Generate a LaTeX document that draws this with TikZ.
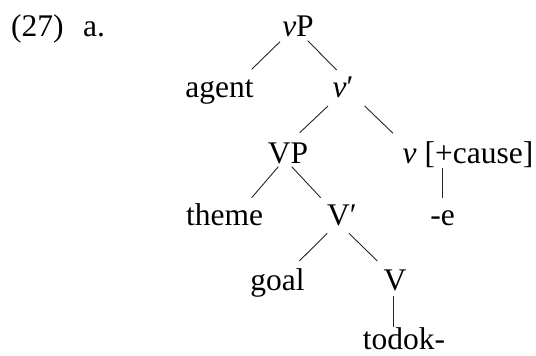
\documentclass[tikz,border=0pt]{standalone}
\usepackage{fontspec}
\setmainfont{Liberation Serif}
\begin{document}
\begin{tikzpicture}[x=1pt,y=-1pt,
  lab/.style={anchor=base,inner sep=0pt,font=\fontsize{31.5}{36}\selectfont},
  branch/.style={line width=0.9pt,black!85}]
\useasboundingbox (0,0) rectangle (536,356);
% example number
\node[lab,anchor=base west] (num) at (11,36) {(27)};
\node[lab,anchor=base west] (lett) at (83,36) {a.};
% tree nodes
\node[lab] (vP) at (298,36) {\textit{v}P};
\node[lab] (agent) at (219.5,97) {agent};
\node[lab] (vbar) at (343,97) {\textit{v}′};
\node[lab] (VP) at (288,163) {VP};
\node[lab] (vc) at (468,163) {\textit{v} [+cause]};
\node[lab] (theme) at (224.7,225) {theme};
\node[lab] (Vbar) at (342,225) {V′};
\node[lab] (e) at (442.5,225) {-e};
\node[lab] (goal) at (277.5,290) {goal};
\node[lab] (V) at (395,290) {V};
\node[lab] (todok) at (404,349) {todok-};
% branches
\draw[branch] ([shift={(-18,5.7)}]vP.base) -- ([shift={(32.2,-27.7)}]agent.base);
\draw[branch] ([shift={(9.7,4.7)}]vP.base) -- ([shift={(-6.3,-27)}]vbar.base);
\draw[branch] ([shift={(-15,9)}]vbar.base) -- ([shift={(11.7,-30.3)}]VP.base);
\draw[branch] ([shift={(21.7,9)}]vbar.base) -- ([shift={(-75,-29.7)}]vc.base);
\draw[branch] ([shift={(-9.7,3.7)}]VP.base) -- ([shift={(27,-27.3)}]theme.base);
\draw[branch] ([shift={(3.7,3.7)}]VP.base) -- ([shift={(-21.3,-27.3)}]Vbar.base);
\draw[branch] ([shift={(-26,5)}]vc.base) -- ([shift={(-0.5,-27)}]e.base);
\draw[branch] ([shift={(-14.7,8.3)}]Vbar.base) -- ([shift={(21.8,-29)}]goal.base);
\draw[branch] ([shift={(7,8.3)}]Vbar.base) -- ([shift={(-17.7,-29)}]V.base);
\draw[branch] ([shift={(-1.7,6)}]V.base) -- ([shift={(-10.7,-22.3)}]todok.base);
\end{tikzpicture}
\end{document}
